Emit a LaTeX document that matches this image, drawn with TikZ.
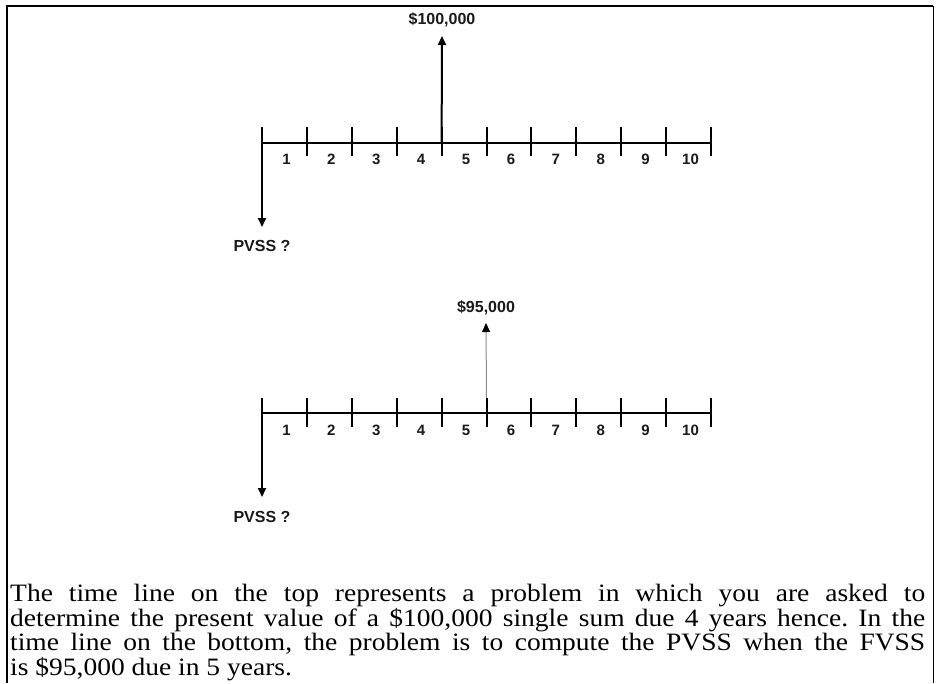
\documentclass[tikz,border=0pt]{standalone}
\usepackage{fontspec}
\setmainfont{Liberation Serif}
\newfontfamily\cashfont{Liberation Sans}
\newfontfamily\notefont[FakeStretch=1.1]{Liberation Serif}
\usetikzlibrary{
  arrows.meta,
  calc,
  positioning
}
\tikzset{
  boxline/.style={line width=2pt,draw=black},
  timeaxis/.style={line width=2pt,draw=black},
  tickmark/.style={line width=2pt,draw=black},
  flowout/.style={-{Triangle[length=9pt,width=8pt]},line width=2pt,draw=black},
  flowthin/.style={-{Triangle[length=9pt,width=8pt,black]},line width=1pt,draw=black!45},
  yearlab/.style={font=\cashfont\bfseries\fontsize{15}{15}\selectfont,
    text=black!90,inner sep=0pt},
  cashlab/.style={font=\cashfont\bfseries\fontsize{16}{16}\selectfont,
    text=black!90,inner sep=0pt},
  notetext/.style={font=\notefont\fontsize{25}{24.7}\selectfont\frenchspacing,
    text width=915pt,align=justify,inner sep=0pt}
}

\begin{document}
\begin{tikzpicture}[x=1pt,y=-1pt]
  \useasboundingbox (0,0) rectangle (937,683);
  \draw[boxline] (7,683) -- (7,6) -- (933,6);
  \draw[boxline,line width=1pt] (933,6) -- (933,683);

  \foreach \k in {0,...,10} {
    \coordinate (a\k) at ({262+44.9*\k},143);
    \coordinate (b\k) at ({262+44.9*\k},413);
  }
  \draw[timeaxis] (a0) -- (a10);
  \draw[timeaxis] (b0) -- (b10);
  \foreach \k in {0,...,10} {
    \draw[tickmark] ($(a\k)+(0,-16)$) -- ($(a\k)+(0,13)$);
    \draw[tickmark] ($(b\k)+(0,-15)$) -- ($(b\k)+(0,14)$);
  }
  \foreach \k [evaluate=\k as \j using int(\k-1)] in {1,...,10} {
    \node[yearlab] (ya\k) at ($(a\j)!0.5!(a\k)+(2,16)$) {\k};
    \node[yearlab] (yb\k) at ($(b\j)!0.5!(b\k)+(2,17)$) {\k};
  }

  \coordinate (fv1tip) at (442,36);
  \draw[flowout] (a4) -- (fv1tip);
  \node[cashlab,above=9pt of fv1tip] (fv1) {\$100,000};
  \coordinate (pv1tip) at (262,227);
  \draw[flowout] (a0) -- (pv1tip);
  \node[cashlab,below=13pt of pv1tip] (pv1) {PVSS ?};

  \coordinate (b5top) at ($(b5)+(0,-15)$);
  \coordinate (fv2tip) at (486,323);
  \draw[flowthin] (b5top) -- (fv2tip);
  \node[cashlab,above=8pt of fv2tip] (fv2) {\$95,000};
  \coordinate (pv2tip) at (262,497);
  \draw[flowout] (b0) -- (pv2tip);
  \node[cashlab,below=14pt of pv2tip] (pv2) {PVSS ?};

  \node[notetext,anchor=north west] (note) at (10,584) {The time line on the
    top represents a problem in which you are asked to\linebreak determine the
    present value of a \$100,000 single sum due 4 years hence. In the\linebreak
    time line on the bottom, the problem is to compute the PVSS when the
    FVSS\linebreak is \$95,000 due in 5 years.};
\end{tikzpicture}
\end{document}
